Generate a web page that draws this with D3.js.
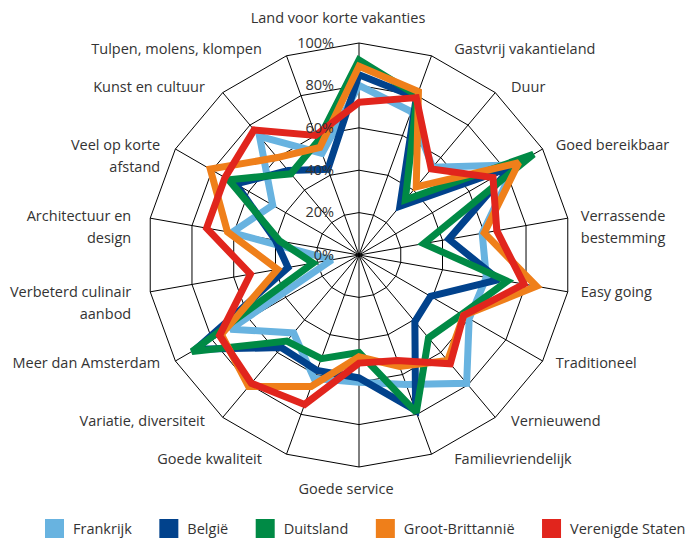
<!DOCTYPE html>
<html>
<head>
<meta charset="utf-8">
<style>
    body, html {
        margin: 0;
        padding: 0;
        background: #fff;
    }
    svg text {
        font-family: "Open Sans", sans-serif;
        fill: #333;
    }
</style>
</head>
<body>
<svg width="689" height="541"></svg>

<script src="https://d3js.org/d3.v7.min.js"></script>
<script>
    // categories, clockwise from the top
    var categories = [
        "Land voor korte vakanties",
        "Gastvrij vakantieland",
        "Duur",
        "Goed bereikbaar",
        "Verrassende\nbestemming",
        "Easy going",
        "Traditioneel",
        "Vernieuwend",
        "Familievriendelijk",
        "Goede service",
        "Goede kwaliteit",
        "Variatie, diversiteit",
        "Meer dan Amsterdam",
        "Verbeterd culinair\naanbod",
        "Architectuur en\ndesign",
        "Veel op korte\nafstand",
        "Kunst en cultuur",
        "Tulpen, molens, klompen"
    ];

    // percentages per country
    var frankrijk = [80, 72, 54, 85, 59, 61, 60, 79, 65, 60, 62, 48, 70, 13, 61, 47, 73, 51];
    var belgie    = [85, 79, 30, 83, 43, 67, 39, 41, 78, 58, 58, 57, 89, 34, 40, 67, 52, 43];
    var duitsland = [92, 80, 34, 95, 31, 71, 56, 51, 79, 46, 52, 53, 91, 22, 38, 71, 50, 57];
    var grootBrittannie = [89, 82, 42, 87, 60, 85, 57, 65, 56, 48, 66, 81, 75, 39, 63, 81, 60, 54];
    var verenigdeStaten = [72, 79, 53, 73, 66, 79, 57, 67, 53, 51, 75, 79, 76, 52, 73, 73, 77, 60];

    var seriesNames = ["Frankrijk", "België", "Duitsland", "Groot-Brittannië", "Verenigde Staten"];
    var seriesColors = ["#68b3e0", "#01428c", "#008a45", "#ef7f1a", "#e1251d"];
    var seriesValues = [frankrijk, belgie, duitsland, grootBrittannie, verenigdeStaten];

    var tickValues = [0, 20, 40, 60, 80, 100];
    var tickLabels = ["0%", "20%", "40%", "60%", "80%", "100%"];

    var svg = d3.select("svg");
    var cx = 359, cy = 255, radius = 212;

    var r = d3.scaleLinear().domain([0, 100]).range([0, radius]);
    var angle = d3.scaleLinear().domain([0, categories.length]).range([0, 2 * Math.PI]);

    var g = svg.append("g").attr("transform", "translate(" + cx + "," + cy + ")");

    // GRID rings
    g.selectAll(".ring")
        .data(tickValues)
        .enter().append("path")
        .attr("class", "ring")
        .attr("fill", "none")
        .attr("stroke", "#000")
        .attr("stroke-width", 1)
        .attr("d", function (v) {
            return d3.lineRadial()
                .angle(function (d, i) { return angle(i); })
                .radius(r(v))
                .curve(d3.curveLinearClosed)(categories);
        });

    // SPOKES
    g.selectAll(".spoke")
        .data(categories)
        .enter().append("line")
        .attr("class", "spoke")
        .attr("stroke", "#000")
        .attr("stroke-width", 1)
        .attr("x1", 0).attr("y1", 0)
        .attr("x2", function (d, i) { return r(100) * Math.sin(angle(i)); })
        .attr("y2", function (d, i) { return -r(100) * Math.cos(angle(i)); });

    // SERIES
    var line = d3.lineRadial()
        .angle(function (d, i) { return angle(i); })
        .radius(function (d) { return r(d); })
        .curve(d3.curveLinearClosed);

    g.selectAll(".series")
        .data(seriesValues)
        .enter().append("path")
        .attr("class", "series")
        .attr("fill", "none")
        .attr("stroke", function (d, i) { return seriesColors[i]; })
        .attr("stroke-width", 7)
        .attr("stroke-linejoin", "miter")
        .attr("stroke-miterlimit", 2.2)
        .attr("d", line);

    // CATEGORY LABELS
    categories.forEach(function (name, i) {
        var a = angle(i), s = Math.sin(a), c = Math.cos(a);
        var ex = r(100) * s, ey = -r(100) * c;
        var anchor, x, y;
        if (Math.abs(s) < 0.1) {
            anchor = "middle";
            x = c > 0 ? ex - 21 : ex - 13;
            y = c > 0 ? ey - 24 : ey + 23;
        } else {
            anchor = s > 0 ? "start" : "end";
            var pad = 13 + 14 * Math.pow(Math.abs(c), 6);
            if (s < 0) pad += Math.abs(c) < 0.3 ? 6 : 2;
            x = ex + (s > 0 ? pad : -pad);
            y = ey - 6 * c;
        }
        var t = g.append("text")
            .attr("text-anchor", anchor)
            .attr("font-size", 14.5)
            .attr("dominant-baseline", "middle");
        name.split("\n").forEach(function (part, k) {
            t.append("tspan").attr("x", x).attr("y", y + k * 22).text(part);
        });
    });

    // TICK LABELS
    g.selectAll(".tick")
        .data(tickValues)
        .enter().append("text")
        .attr("class", "tick")
        .attr("text-anchor", "end")
        .attr("dominant-baseline", "middle")
        .attr("font-size", 14.5)
        .attr("x", -25)
        .attr("y", function (v) { return -r(v) + 1; })
        .text(function (v, i) { return tickLabels[i]; });

    // LEGEND
    var lx = 45;
    seriesNames.forEach(function (name, i) {
        var item = svg.append("g").attr("transform", "translate(" + lx + ",519)");
        item.append("rect")
            .attr("width", 19).attr("height", 19)
            .attr("fill", seriesColors[i]);
        var txt = item.append("text")
            .attr("x", 28).attr("y", 11)
            .attr("font-size", 14.5)
            .attr("dominant-baseline", "middle")
            .text(name);
        lx += 28 + txt.node().getComputedTextLength() + 27.5;
    });
</script>
</body>
</html>
